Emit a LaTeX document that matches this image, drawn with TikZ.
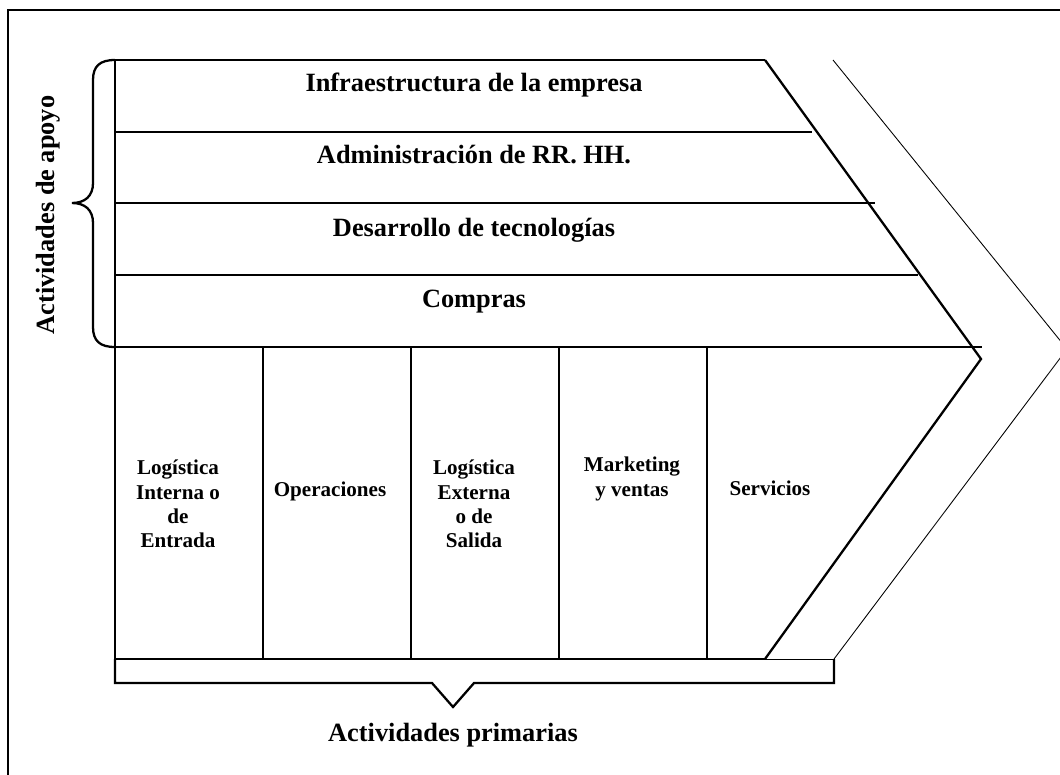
\documentclass[tikz,border=0pt]{standalone}
\usepackage{fontspec}
\setmainfont{Liberation Serif}
\usetikzlibrary{positioning}

\begin{document}
\begin{tikzpicture}[
    x=0.02cm, y=-0.02cm,
    band/.style={font=\fontsize{15}{17}\selectfont\bfseries, inner sep=0pt},
    cell/.style={font=\fontsize{12}{13.9}\selectfont\bfseries, align=center, inner sep=0pt},
    heavy/.style={line width=1.3pt, line join=miter},
    light/.style={line width=0.5pt}
]
    \clip (0,0) rectangle (1060,774);

    % Outer frame (runs past the page on the right and bottom)
    \draw[heavy] (8,10) rectangle (1090,800);

    % Value chain body with the inner arrow tip
    \draw[heavy] (765,60) -- (115,60) -- (115,659) -- (765,659);
    \draw[heavy] (765,60) -- (981,359) -- (765,659);

    % Outer arrow
    \draw[light] (833,60) -- (1067,349) -- (834,659);

    % Support rows
    \draw[heavy] (115,132) -- (812,132);
    \draw[heavy] (115,203) -- (875,203);
    \draw[heavy] (115,275) -- (918,275);
    \draw[heavy] (115,347) -- (982,347);

    % Primary columns
    \foreach \x in {263,411,559,707}
        \draw[heavy] (\x,347) -- (\x,659);

    % Bracket below the primary activities
    \draw[heavy] (115,659) -- (115,683) -- (432,683) -- (453,707) -- (474,683) -- (834,683) -- (834,659);
    \draw[light] (765,659) -- (834,659);

    % Brace beside the support activities
    \draw[heavy] (115,60) .. controls (100,60) and (93,66) .. (93,80) -- (93,183)
        .. controls (93,196) and (85,203) .. (72,203)
        .. controls (85,203) and (93,210) .. (93,223) -- (93,327)
        .. controls (93,341) and (100,347) .. (115,347);

    % Support activity labels
    \node[band] (infra) at (474,85) {Infraestructura de la empresa};
    \node[band] (rrhh) at (474,155) {Administración de RR. HH.};
    \node[band] (tecno) at (474,230) {Desarrollo de tecnologías};
    \node[band] (compras) at (474,302) {Compras};

    % Primary activity labels
    \node[cell] (logint) at (178,504) {Logística\\Interna o\\de\\Entrada};
    \node[cell] (operac) at (330,491) {Operaciones};
    \node[cell] (logext) at (474,504) {Logística\\Externa\\o de\\Salida};
    \node[cell] (mkt) at (632,479) {Marketing\\y ventas};
    \node[cell] (serv) at (770,488) {Servicios};

    % Group captions
    \node[band, rotate=90] (apoyo) at (48,215) {Actividades de apoyo};
    \node[band] (primarias) at (453,735) {Actividades primarias};
\end{tikzpicture}
\end{document}
